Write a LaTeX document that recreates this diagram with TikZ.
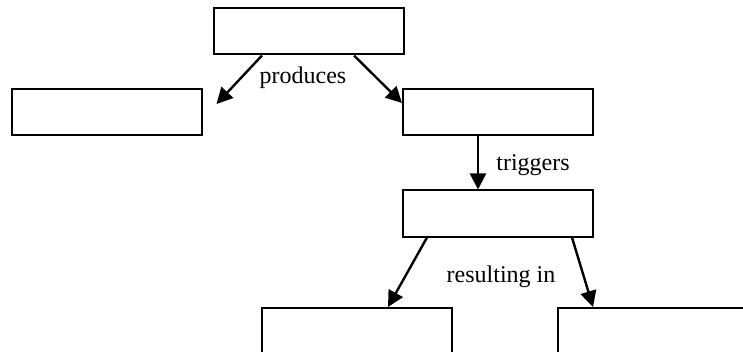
\documentclass[tikz,border=0pt]{standalone}
\usepackage{fontspec}
\setmainfont{Liberation Serif}
\usepackage{tikz}
\usetikzlibrary{calc,arrows.meta}
\tikzset{
  box/.style={draw=black, line width=1pt, minimum width=95pt, minimum height=23pt, inner sep=0pt},
  link/.style={draw=black, line width=1.2pt, -{Triangle[length=8pt,width=8pt]}},
  lab/.style={font=\fontsize{12}{14}\selectfont, inner sep=0pt}
}
\begin{document}
\begin{tikzpicture}[x=0.5pt,y=-0.5pt]
  \useasboundingbox (0,0) rectangle (743,352);

  \node[box] (top)  at (309,31.5) {};
  \node[box] (left) at (106.5,112) {};
  \node[box] (right) at (498,112) {};
  \node[box] (mid)  at (498,213.5) {};
  \node[box] (botL) at (357,331) {};
  \node[box] (botR) at (653,331) {};

  \coordinate (prodL) at ($(left.north east)+(14,16)$);

  \draw[link] ($(top.south)+(-47,0)$) -- (prodL);
  \draw[link] ($(top.south)+(45,0)$) -- ($(right.north west)+(0,15)$);
  \draw[link] ($(right.south)+(-20,0)$) -- ($(mid.north)+(-20,0)$);
  \draw[link] ($(mid.south)+(-71,0)$) -- ($(botL.north)+(31,0)$);
  \draw[link] ($(mid.south)+(74,0)$) -- ($(botR.north)+(-60,0)$);

  \node[lab] (produces) at (303,78) {produces};
  \node[lab] (triggers) at (533,165) {triggers};
  \node[lab] (result) at (501,277) {resulting in};
\end{tikzpicture}
\end{document}
